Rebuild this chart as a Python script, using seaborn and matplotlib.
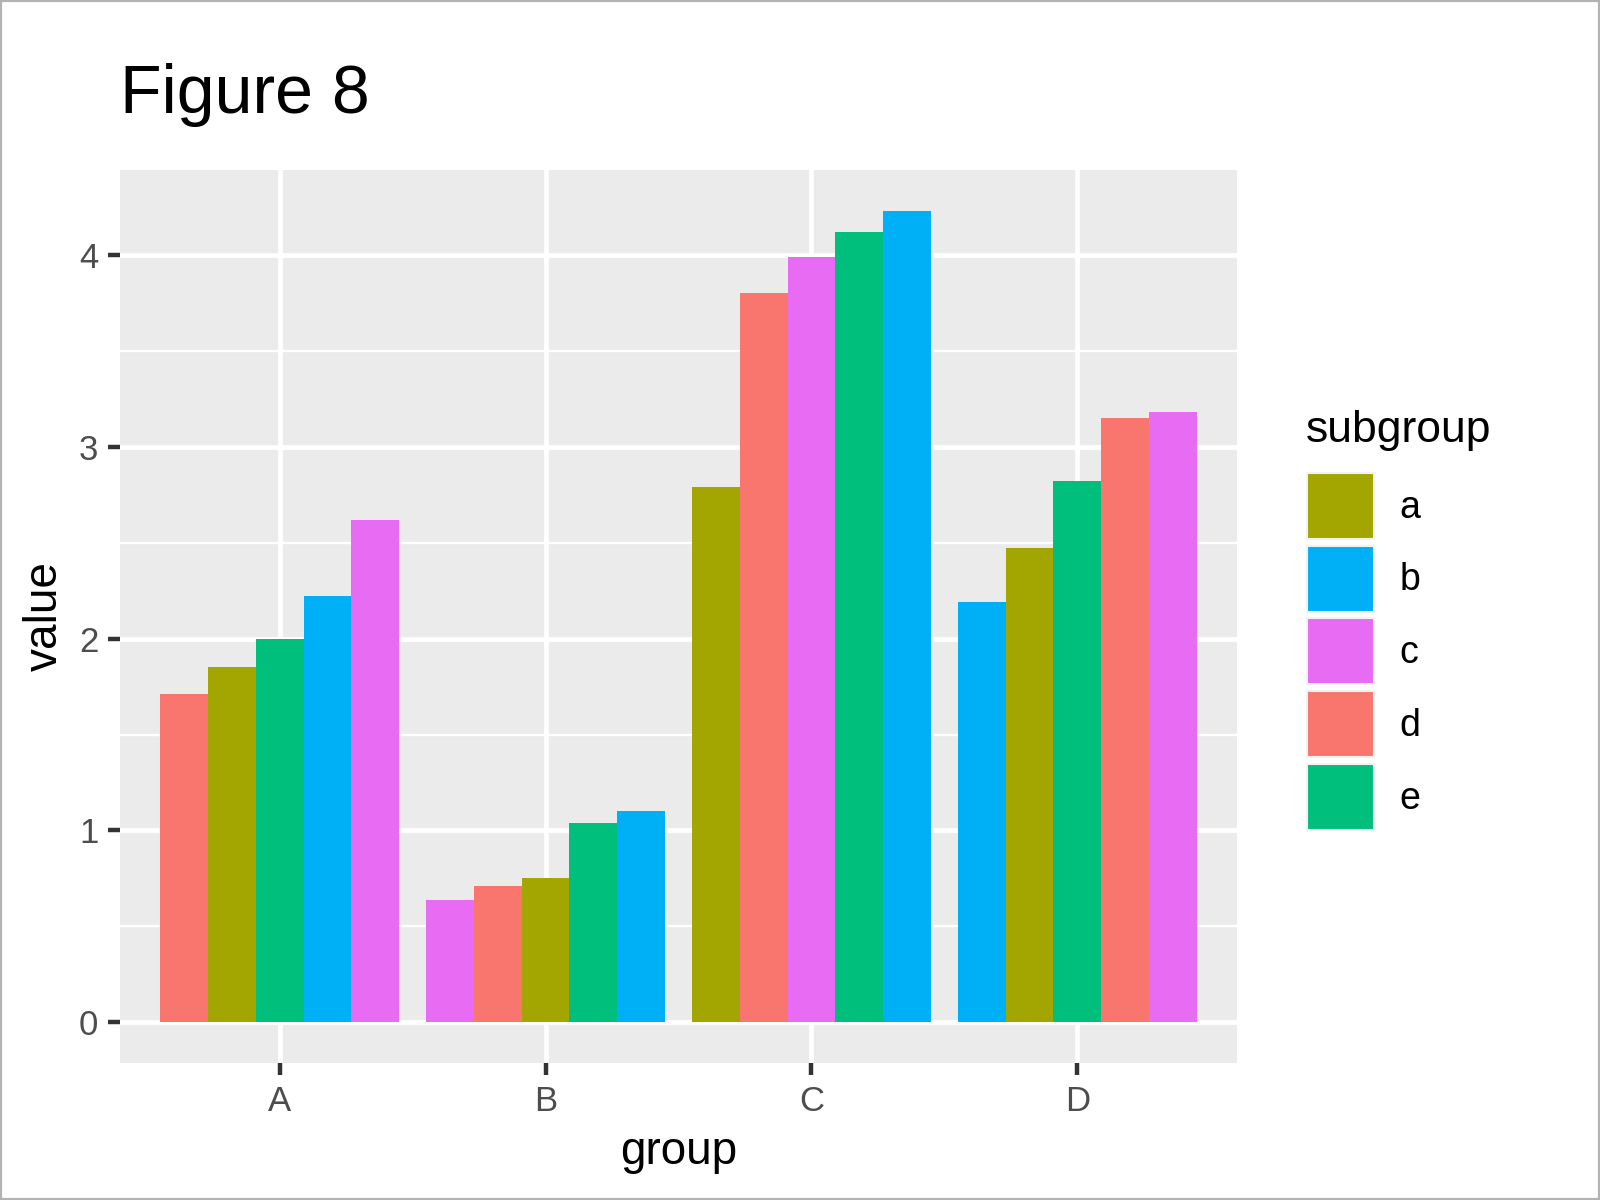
import numpy as np
import pandas as pd
import matplotlib
matplotlib.use('Agg')
import matplotlib.pyplot as plt
from matplotlib.patches import Patch, Rectangle
from matplotlib.ticker import MultipleLocator
import seaborn as sns

# 数据
groups = ['A', 'B', 'C', 'D']
subgroups = ['a', 'b', 'c', 'd', 'e']
val_a = [1.85, 0.75, 2.79, 2.47]
val_b = [2.22, 1.10, 4.23, 2.19]
val_c = [2.62, 0.64, 3.99, 3.18]
val_d = [1.71, 0.71, 3.80, 3.15]
val_e = [2.00, 1.04, 4.12, 2.82]

# ggplot 默认色
colors = ['#A3A500', '#00B0F6', '#E76BF3', '#F8766D', '#00BF7D']
color_map = dict(zip(subgroups, colors))

df = pd.DataFrame({
    'group': groups * 5,
    'subgroup': np.repeat(subgroups, 4),
    'value': val_a + val_b + val_c + val_d + val_e,
})
# 每组内按数值排序
df['rank'] = df.groupby('group')['value'].rank(method='first').astype(int) - 1

sns.set_theme(style='white')
plt.rcParams['font.family'] = ['Liberation Sans', 'DejaVu Sans']

fig = plt.figure(figsize=(16, 12), dpi=100)
ax = fig.add_axes([120 / 1600, 1 - 1063 / 1200, 1117 / 1600, 893 / 1200])
ax.set_facecolor('#EBEBEB')

sns.barplot(data=df, x='group', y='value', hue='rank', order=groups,
            hue_order=[0, 1, 2, 3, 4], width=0.9, dodge=True, legend=False,
            saturation=1, ax=ax, zorder=3)

# 按子组重新着色
for r, cont in enumerate(ax.containers):
    for g, bar in zip(groups, cont):
        sub = df[(df['group'] == g) & (df['rank'] == r)]['subgroup'].iloc[0]
        bar.set_facecolor(color_map[sub])
        bar.set_edgecolor('none')

vmax = df['value'].max()
ax.set_ylim(-0.05 * vmax, vmax * 1.05)
ax.set_xlim(-0.6, len(groups) - 0.4)

ax.yaxis.set_major_locator(MultipleLocator(1))
ax.yaxis.set_minor_locator(MultipleLocator(0.5))
ax.grid(which='major', color='white', linewidth=3.4, zorder=0)
ax.grid(which='minor', axis='y', color='white', linewidth=1.7, zorder=0)
ax.set_axisbelow(True)
for s in ax.spines.values():
    s.set_visible(False)

ax.tick_params(axis='both', which='major', bottom=True, left=True, length=8.6,
               width=3.2, color='#333333', labelsize=25, labelcolor='#4D4D4D', pad=7)
ax.tick_params(axis='y', which='minor', length=0)
ax.tick_params(axis='x', pad=7)

ax.set_xlabel('group', fontsize=33, color='black')
ax.set_ylabel('value', fontsize=33, color='black')
ax.xaxis.label.set_va('baseline')
ax.xaxis.set_label_coords(0.5, (1063 - 1164) / 893)
ax.yaxis.label.set_va('baseline')
ax.yaxis.set_label_coords((57 - 120) / 1117, 0.5)

fig.text(120 / 1600, 1 - 113 / 1200, 'Figure 8', fontsize=49, va='baseline',
         ha='left', color='black')

# 图例
fig.text(1306 / 1600, 1 - 442 / 1200, 'subgroup', fontsize=32, va='baseline',
         ha='left', color='black')
handles = [Patch(facecolor=c, edgecolor='#F2F2F2', linewidth=1.5) for c in colors]
leg = fig.legend(handles, subgroups, loc='upper left',
                 bbox_to_anchor=(1307 / 1600, 1 - 473 / 1200), frameon=False,
                 fontsize=27, borderpad=0, borderaxespad=0,
                 handlelength=1.79, handleheight=2.33, labelspacing=0.18,
                 handletextpad=0.67)
for t in leg.get_texts():
    t.set_color('black')

fig.patches.append(Rectangle((0, 0), 1, 1, transform=fig.transFigure, fill=False,
                             edgecolor='#B3B3B3', linewidth=3))

plt.savefig('out.png', dpi=100)
